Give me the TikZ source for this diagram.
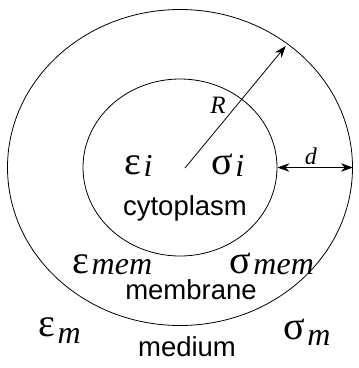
\documentclass[tikz,border=0pt]{standalone}
\usepackage{fontspec}
\setmainfont{Liberation Sans}
\newfontfamily\cellserif{Liberation Serif}
\usetikzlibrary{arrows.meta, shapes.geometric}

% Greek symbol with an italic subscript, as in the figure
\newcommand{\matsym}[3][2pt]{{\cellserif\fontsize{40}{42}\selectfont #2}\hspace{2.5pt}\raisebox{-#1}{\cellserif\itshape\fontsize{32}{34}\selectfont #3}}

\begin{document}
\begin{tikzpicture}[x=1pt, y=-1pt, >={Stealth[length=12pt, width=8.5pt]}, line width=0.8pt,
  cell/.style={draw, ellipse, inner sep=0pt},
  word/.style={anchor=base, font=\fontsize{27.5}{30}\selectfont},
  param/.style={anchor=base west, inner sep=0pt}]

\useasboundingbox (0,0) rectangle (359,368);

% --- Shells ---
\node[cell, minimum width=345pt, minimum height=316pt] (outer) at (180,167.5) {};
\node[cell, minimum width=194pt, minimum height=177pt] (inner) at (180,167.5) {};

% --- Radius and thickness ---
\coordinate (rstart) at (185,168);
\draw[->, shorten >=3pt] (rstart) -- (outer.49);
\draw[<->] (inner.east) -- (outer.east);
\node[anchor=base west, inner sep=0pt, font=\cellserif\itshape\fontsize{25}{27}\selectfont] (rlabel) at (210,113) {R};
\node[anchor=base, inner sep=0pt, font=\cellserif\itshape\fontsize{24}{26}\selectfont] (dlabel) at (311,164) {d};

% --- Cytoplasm ---
\node[param] (epsi) at (124,174) {\matsym{ε}{i}};
\node[param] (sigi) at (211,174) {\matsym{σ}{i}};
\node[word] (cyto) at (185,215) {cytoplasm};

% --- Membrane ---
\node[param] (epsmem) at (72,273) {\matsym[1pt]{ε}{mem}};
\node[param] (sigmem) at (229,273) {\matsym[1pt]{σ}{mem}};
\node[word] (memb) at (191,299) {membrane};

% --- Medium ---
\node[param] (epsm) at (38,336) {\matsym[7pt]{ε}{m}};
\node[param] (sigm) at (283,339) {\matsym[6pt]{σ}{m}};
\node[word] (medium) at (187,356) {medium};

\end{tikzpicture}
\end{document}
